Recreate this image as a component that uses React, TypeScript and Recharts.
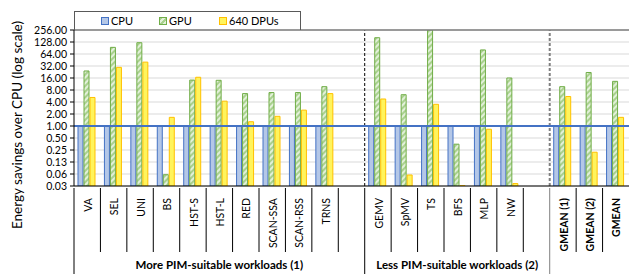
import { Bar, BarChart, CartesianGrid, ReferenceLine, XAxis, YAxis } from 'recharts'

const CATEGORIES = ['VA', 'SEL', 'UNI', 'BS', 'HST-S', 'HST-L', 'RED', 'SCAN-SSA', 'SCAN-RSS', 'TRNS', ' ',
  'GEMV', 'SpMV', 'TS', 'BFS', 'MLP', 'NW', '  ', 'GMEAN (1)', 'GMEAN (2)', 'GMEAN']
const CPU = [1, 1, 1, 1, 1, 1, 1, 1, 1, 1, null, 1, 1, 1, 1, 1, 1, null, 1, 1, 1]
const GPU = [24, 94, 123, 0.06, 14.2, 14, 6.5, 6.9, 6.9, 9.7, null, 164, 6.1, 256, 0.35, 81, 16, null, 9.7, 22, 13.2]
const DPU = [5.2, 29.6, 40, 1.65, 16.7, 4.2, 1.28, 1.75, 2.5, 6.5, null, 4.76, 0.059, 3.5, 0.032, 0.83, 0.036, null, 5.5, 0.22, 1.65]
const Y_TICKS = [0.03125, 0.0625, 0.125, 0.25, 0.5, 1, 2, 4, 8, 16, 32, 64, 128, 256]
const GROUPS = [
  { start: 0, size: 11, label: 'More PIM-suitable workloads (1)' },
  { start: 11, size: 7, label: 'Less PIM-suitable workloads (2)' },
  { start: 18, size: 3, label: '' },
]

const W = 629
const H = 274
const LEFT = 74
const CELL = (W - LEFT) / CATEGORIES.length
const FONT = 'Lato, sans-serif'

const data = CATEGORIES.map((name, i) => ({ name, cpu: CPU[i], gpu: GPU[i], dpu: DPU[i] }))

function CategoryTick(props: any) {
  const { x, y, payload } = props
  const i = payload.index ?? props.index
  const left = x - CELL / 2
  const group = GROUPS.find((g) => g.start === i)
  const bold = String(payload.value).startsWith('GMEAN')
  return (
    <g>
      <line x1={left} x2={left} y1={y} y2={group ? H : y + 64} stroke={group && i === 18 ? '#7f7f7f' : '#000'} />
      <text
        x={x + 1}
        y={y + 10}
        transform={`rotate(-90, ${x + 1}, ${y + 10})`}
        textAnchor="end"
        dy="0.35em"
        fontSize={10.5}
        fontWeight={bold ? 700 : 400}
        fill="#000"
        fontFamily={FONT}
      >
        {String(payload.value).trim()}
      </text>
      {group && group.label && (
        <text
          x={left + (group.size * CELL) / 2}
          y={y + 81}
          textAnchor="middle"
          fontSize={11.5}
          fontWeight={700}
          fill="#000"
          fontFamily={FONT}
        >
          {group.label}
        </text>
      )}
    </g>
  )
}

function LegendBox() {
  const items = [
    { name: 'CPU', left: 26, style: { background: '#B4C7E7', border: '1px solid #4472C4' } },
    { name: 'GPU', left: 84, style: { background: 'repeating-linear-gradient(135deg, #A9D18E 0 2px, #E2F0D9 2px 4px)', border: '1px solid #70AD47' } },
    { name: '640 DPUs', left: 144, style: { background: '#FFF45C', border: '1px solid #FFC000' } },
  ]
  return (
    <div style={{ position: 'absolute', left: LEFT, top: 11, width: 227, height: 19, border: '1px solid #595959', borderBottom: 'none', boxSizing: 'border-box' }}>
      {items.map((it) => (
        <div key={it.name} style={{ position: 'absolute', left: it.left, top: 2, display: 'flex', alignItems: 'center', fontSize: 11, fontFamily: FONT, color: '#000', lineHeight: '14px' }}>
          <span style={{ width: 6, height: 6, marginRight: 2, display: 'inline-block', ...it.style }} />
          {it.name}
        </div>
      ))}
    </div>
  )
}

export default function App() {
  return (
    <div style={{ position: 'absolute', left: 0, top: 0, width: W, height: H, background: '#fff', fontFamily: FONT }}>
      <BarChart width={W} height={H} data={data} margin={{ top: 30, right: 0, bottom: 0, left: 0 }} barCategoryGap={4} barGap={1}>
        <defs>
          <pattern id="gpuHatch" patternUnits="userSpaceOnUse" width="4" height="4" patternTransform="rotate(45)">
            <rect width="4" height="4" fill="#E2F0D9" />
            <rect width="2" height="4" fill="#A9D18E" />
          </pattern>
        </defs>
        <CartesianGrid vertical={false} stroke="#d9d9d9" />
        <XAxis dataKey="name" height={88} interval={0} tickSize={0} tickLine={false} axisLine={{ stroke: '#000' }} tick={<CategoryTick />} />
        <YAxis
          width={LEFT}
          scale="log"
          domain={[0.03125, 256]}
          allowDataOverflow
          ticks={Y_TICKS}
          interval={0}
          tickFormatter={(v) => Number(v).toFixed(2)}
          tickSize={4}
          tickMargin={3}
          axisLine={{ stroke: '#000' }}
          tickLine={{ stroke: '#000' }}
          tick={{ fontSize: 10.5, fill: '#000', fontFamily: FONT }}
          label={{
            content: () => (
              <text x={17} y={125} transform="rotate(-90, 17, 125)" textAnchor="middle" dy="0.35em" fontSize={13.5} fill="#000" fontFamily={FONT}>
                Energy savings over CPU (log scale)
              </text>
            ),
          }}
        />
        <Bar dataKey="cpu" name="CPU" fill="#B4C7E7" stroke="#4472C4" strokeWidth={1} isAnimationActive={false} />
        <Bar dataKey="gpu" name="GPU" fill="url(#gpuHatch)" stroke="#70AD47" strokeWidth={1} isAnimationActive={false} />
        <Bar dataKey="dpu" name="640 DPUs" fill="#FFF45C" stroke="#FFC000" strokeWidth={1} isAnimationActive={false} />
        <ReferenceLine x="GEMV" position="start" stroke="#000" strokeDasharray="3 2" />
        <ReferenceLine x="GMEAN (1)" position="start" stroke="#7f7f7f" strokeWidth={2} strokeDasharray="3 2" />
        <ReferenceLine y={1} stroke="#4472C4" strokeWidth={2} />
        <ReferenceLine y={256} stroke="#7f7f7f" strokeWidth={1.5} />
      </BarChart>
      <LegendBox />
    </div>
  )
}
